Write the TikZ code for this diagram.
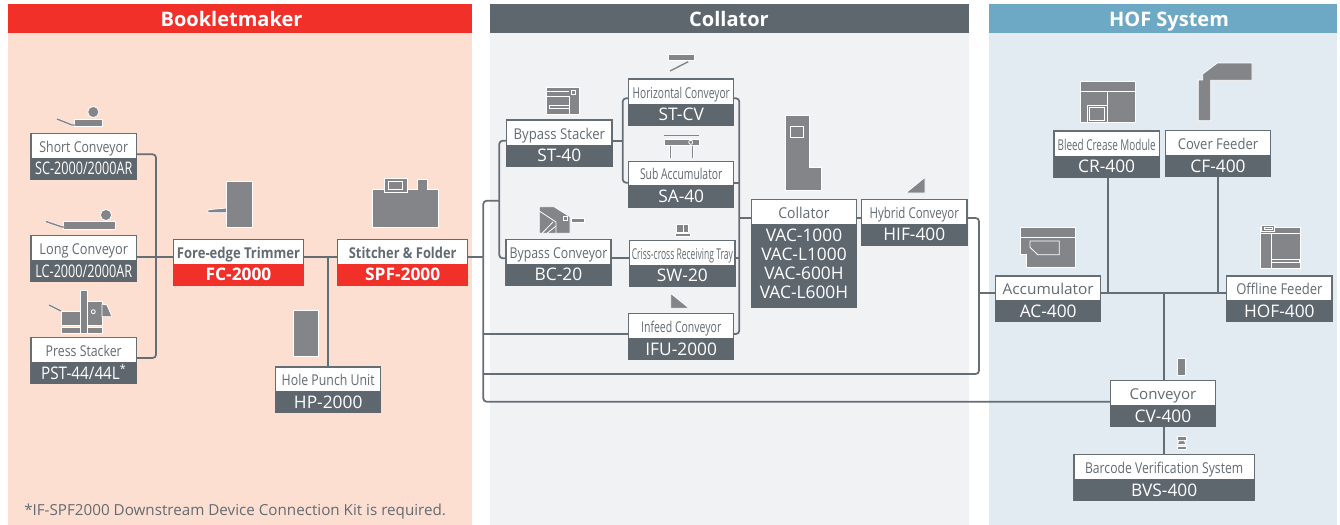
\documentclass[tikz,border=0pt]{standalone}
\usepackage{fontspec}
\usepackage{graphicx}
\setmainfont{Open Sans}
\usetikzlibrary{fit,calc}
\definecolor{peachbg}{HTML}{FDDFD2}
\definecolor{greybg}{HTML}{F1F2F4}
\definecolor{bluebg}{HTML}{E3EBF2}
\definecolor{redhd}{HTML}{F1302A}
\definecolor{darkhd}{HTML}{5F676E}
\definecolor{bluehd}{HTML}{6DA8C5}
\definecolor{icongrey}{HTML}{848589}
\definecolor{wire}{HTML}{666E75}
\definecolor{labtxt}{HTML}{636B72}
\newcommand{\sq}[2]{\scalebox{#1}[1]{#2}}
\tikzset{
  x=0.75pt,y=-0.75pt,
  panel/.style={draw=none,inner sep=0pt},
  headtxt/.style={text=white,font=\bfseries\fontsize{15}{16}\selectfont,inner sep=0pt,anchor=base},
  boxout/.style={draw=wire,line width=0.8pt,fill=white,inner sep=0pt},
  boxdark/.style={fill=darkhd,draw=darkhd,line width=0.5pt,inner sep=0pt},
  labeltxt/.style={text=labtxt,font=\fontsize{11.2}{12}\selectfont,inner sep=0pt,anchor=base},
  modeltxt/.style={text=white,font=\fontsize{13}{14.25}\selectfont,inner sep=0pt,anchor=base},
  conn/.style={draw=wire,line width=1.3pt,rounded corners=2.5pt},
  icon/.style={fill=icongrey,draw=white,line width=0.6pt,line join=miter},
  iw/.style={draw=white,line width=0.6pt},
  thinwire/.style={draw=icongrey,line width=1.1pt,preaction={draw=white,line width=1.8pt}},
}
\newcommand{\Unit}[8]{%
  \node[boxout,fit={(#2,#3)(#5,#6)}] (#1) {};
  \node[boxdark,fit={(#2,#4)(#5,#6)}] (#1-m) {};
  \node[labeltxt] (#1-l) at ({(#2+#5)/2},{#4-6}) {\sq{.9375}{#7}};
  \node[modeltxt] (#1-n) at ({(#2+#5)/2},{#6-4.6}) {#8};
}
\newcommand{\RedUnit}[8]{%
  \node[boxout,draw=redhd,fit={(#2,#3)(#5,#6)}] (#1) {};
  \node[boxdark,fill=redhd,draw=redhd,fit={(#2,#4)(#5,#6)}] (#1-m) {};
  \node[labeltxt,font=\bfseries\fontsize{11.2}{12}\selectfont] (#1-l) at ({(#2+#5)/2},{#4-6}) {\sq{.9375}{#7}};
  \node[modeltxt,font=\bfseries\fontsize{13}{14.25}\selectfont] (#1-n) at ({(#2+#5)/2},{#6-4.6}) {#8};
}
\begin{document}
\begin{tikzpicture}
\useasboundingbox (0,0) rectangle (1340,525);
\fill[white] (0,0) rectangle (1340,525);
% panels
\node[panel,fill=peachbg,fit={(8,33)(472,525)}] (pa) {};
\node[panel,fill=greybg,fit={(490,33)(969,525)}] (pb) {};
\node[panel,fill=bluebg,fit={(989,33)(1337,525)}] (pc) {};
\node[panel,fill=redhd,fit={(8,4)(472,33)}] (ha) {};
\node[panel,fill=darkhd,fit={(490,4)(969,33)}] (hb) {};
\node[panel,fill=bluehd,fit={(989,4)(1337,33)}] (hc) {};
\node[headtxt] (ta) at (231.5,26.3) {Bookletmaker};
\node[headtxt] (tb) at (729,26.3) {Collator};
\node[headtxt] (tc) at (1169,26.3) {HOF System};
% units
\Unit{sc}{31}{133.7}{158}{136.5}{179.5}{\sq{.88}{Short Conveyor}}{\sq{.73}{SC-2000/2000AR}}
\Unit{lc}{31}{235.7}{260}{136.5}{281.7}{\sq{.91}{Long Conveyor}}{\sq{.73}{LC-2000/2000AR}}
\Unit{pst}{31}{337.7}{362}{136.5}{383.7}{\sq{.88}{Press Stacker}}{\sq{.88}{PST-44/44L\textsuperscript{*}}}
\RedUnit{fc}{173.3}{239.3}{264}{303.7}{285.3}{\sq{.93}{Fore-edge Trimmer}}{FC-2000}
\RedUnit{spf}{337.7}{239.3}{264}{467.7}{285.3}{\sq{.92}{Stitcher \& Folder}}{SPF-2000}
\Unit{hp}{275.7}{367}{391}{380.7}{412.7}{\sq{.88}{Hole Punch Unit}}{HP-2000}
\Unit{st}{506.7}{120}{145}{612}{166}{\sq{.94}{Bypass Stacker}}{ST-40}
\Unit{stcv}{628.7}{79}{104}{733.7}{125}{\sq{.73}{Horizontal Conveyor}}{ST-CV}
\Unit{sa}{628.7}{161.3}{185}{733.7}{207.3}{\sq{.74}{Sub Accumulator}}{SA-40}
\Unit{bc}{506}{239.7}{264}{611}{285.3}{\sq{.88}{Bypass Conveyor}}{BC-20}
\Unit{sw}{629.7}{240.3}{265}{735}{286.3}{\sq{.61}{Criss-cross Receiving Tray}}{SW-20}
\Unit{ifu}{628.7}{313.7}{338}{733.7}{359.7}{\sq{.75}{Infeed Conveyor}}{IFU-2000}
\Unit{col}{751.3}{199.3}{224}{856.7}{307.3}{Collator}{}
\node[modeltxt,anchor=north,align=center,font=\fontsize{13}{14.25}\selectfont] (col-v) at (804,228.6) {VAC-1000\\VAC-L1000\\VAC-600H\\VAC-L600H};
\Unit{hif}{861.7}{199.3}{224}{967}{245.3}{\sq{.82}{Hybrid Conveyor}}{HIF-400}
\Unit{ac}{995.7}{276}{300}{1100.7}{321.7}{\sq{1.1}{Accumulator}}{AC-400}
\Unit{hof}{1226.7}{276}{300}{1332}{321.7}{\sq{.93}{Offline Feeder}}{HOF-400}
\Unit{cr}{1054}{131}{156}{1159.3}{177}{\sq{.71}{Bleed Crease Module}}{CR-400}
\Unit{cf}{1165.3}{130.3}{155}{1270.7}{176.7}{\sq{.93}{Cover Feeder}}{CF-400}
\Unit{cv}{1110.3}{380.7}{405}{1215.7}{426.7}{\sq{1.08}{Conveyor}}{CV-400}
\Unit{bvs}{1074}{454.7}{479}{1254.3}{500.7}{\sq{.87}{Barcode Verification System}}{BVS-400}
% trunk coordinates
\coordinate (t1) at (156,257.3);
\coordinate (t2) at (327.7,257.3);
\coordinate (t3) at (483.3,257.3);
\coordinate (t4) at (499.3,200.7);
\coordinate (t5) at (622.7,140.7);
\coordinate (t6) at (739.3,218);
\coordinate (t7) at (979,293.3);
\coordinate (t8) at (1108,293.3);
\coordinate (t9) at (1218.3,293.3);
\coordinate (t10) at (1164,293.3);
% connectors
\draw[conn] (sc.east |- 0,154.3) -| (t1) |- (pst.east |- 0,358);
\draw[conn] (lc.east |- t1) -- (fc.west |- t1);
\draw[conn] (fc.east |- t1) -- (spf.west |- t1);
\draw[conn] (t2) -- (t2 |- hp.north);
\draw[conn] (spf.east |- t3) -- (t3);
\draw[conn] (t4) -| (t3);
\draw[conn] (t3) |- (cv.west |- 0,401.7);
\draw[conn] (t3 |- 0,334) -- (ifu.west |- 0,334);
\draw[conn] (t3 |- 0,374) -- (979,374) -- (979,218) -- (hif.east |- t6);
\draw[conn] (st.west |- t5) -| (t4) |- (bc.west |- 0,258.3);
\draw[conn] (bc.east |- 0,258.3) -- (sw.west |- 0,258.3);
\draw[conn] (st.east |- t5) -- (t5);
\draw[conn] (stcv.west |- 0,98.3) -| (t5) |- (sa.west |- 0,182.7);
\draw[conn] (stcv.east |- 0,98.3) -| (t6) |- (ifu.east |- 0,334);
\draw[conn] (sa.east |- 0,182.7) -- (t6 |- 0,182.7);
\draw[conn] (sw.east |- 0,258.3) -- (t6 |- 0,258.3);
\draw[conn] (t6) -- (col.west |- t6);
\draw[conn] (col.east |- t6) -- (hif.west |- t6);
\draw[conn] (t7) -- (ac.west |- t7);
\draw[conn] (ac.east |- t7) -- (hof.west |- t7);
\draw[conn] (t8) -- (t8 |- cr.south);
\draw[conn] (t9) -- (t9 |- cf.south);
\draw[conn] (t10) -- (t10 |- cv.north);
\draw[conn] (t10 |- cv.south) -- (t10 |- bvs.north);
% footnote
\node[text=labtxt,font=\fontsize{11.4}{13}\selectfont,inner sep=0pt,anchor=base west] (fn) at (24,515) {*IF-SPF2000 Downstream Device Connection Kit is required.};
% icons: short conveyor
\draw[icon] (74.7,119) rectangle (102,126.7);
\draw[icon] (93.3,112) circle[radius=5.6];
\draw[thinwire] (57,119) -- (72,125) -- (75,125);
% long conveyor
\draw[icon] (63.7,221.7) rectangle (115,229.3);
\draw[icon] (106,215) circle[radius=5.6];
\draw[thinwire] (46,221.5) -- (62,227) -- (64,227);
% press stacker
\draw[thinwire] (49,305) -- (61,311);
\draw[icon] (61,311.7) rectangle (80,325.3);
\draw[icon] (61,327.3) rectangle (102,333);
\draw[icon] (87.3,301) rectangle (102,325);
\draw[icon] (102,304) -- (107,305) -- (112,316.7) -- (102,316.7) -- cycle;
\draw[icon] (80,290) rectangle (87.3,333.3);
\draw[icon] (93.3,311.7) circle[radius=2];
% fore-edge trimmer
\draw[icon] (208,209.7) -- (226.7,208) -- (226.7,212.7) -- (208,212.7) -- cycle;
\draw[icon] (226.7,181.7) rectangle (252.3,227.3);
% stitcher
\draw[icon] (372,189) -- (417.7,189) -- (417.7,179.7) -- (427,179.7) -- (427,189) -- (438.7,189) -- (438.7,227) -- (372,227) -- cycle;
\draw[icon] (384,178.3) rectangle (407.3,192.3);
\draw[iw] (388.3,181) rectangle (402.7,189.3);
% hole punch
\draw[icon] (293,310.3) rectangle (318.7,356);
% st-cv
\draw[icon] (668,54) rectangle (694.7,60.3);
\draw[thinwire] (670,71) -- (688.3,61.7);
% st-40
\draw[icon] (546.3,87.7) rectangle (579,114);
\draw[iw] (546.3,91) -- (569.3,91);
\draw[iw] (546.3,96.7) -- (569.3,96.7) -- (569.3,114);
\draw[iw] (569.3,105) -- (549,105) -- (549,108) -- (569.3,108);
\draw[iw] (571.7,90.7) rectangle (575.7,94.7);
% sa-40
\draw[draw=icongrey,line width=.7pt] (664,135) -- (699,135);
\draw[icon] (664,139.7) rectangle (699,145);
\draw[icon] (690.7,142.3) circle[radius=2];
\draw[thinwire] (670.3,146) -- (670.3,158);
\draw[thinwire] (692.7,146) -- (692.7,158);
% bc-20
\draw[icon] (539.3,206.7) -- (554,206.7) -- (570,216.7) -- (570,233.3) -- (539.3,233.3) -- cycle;
\draw[iw] (539.3,211) -- (556,222) -- (556,233.3);
\draw[iw] (542,233.3) -- (553,222);
\draw[iw] (547,233.3) -- (556,226);
\draw[iw] (563.3,216.7) rectangle (567.3,220.7);
\draw[icon] (571,218.7) rectangle (584,222);
% sw-20
\draw[icon] (676.7,224) rectangle (688.3,232.3);
\draw[iw] (683.3,224) -- (683.3,232.3);
\draw[icon] (675,233.3) rectangle (690,236.7);
% ifu
\draw[icon] (670.7,293.3) -- (670.7,308.3) -- (689.3,308.3) -- cycle;
% collator
\draw[icon] (785,115) -- (809,115) -- (809,167.3) -- (821.3,167.3) -- (821.3,190) -- (785,190) -- cycle;
\draw[iw] (790,126) rectangle (803.3,137.7);
% hif
\draw[icon] (925,177.3) -- (925,193) -- (905.7,193) -- cycle;
% cr
\draw[icon] (1080,81.3) rectangle (1135.3,122);
\draw[iw] (1080,91.3) -- (1135.3,91.3);
\draw[iw] (1107,91.3) -- (1107,122);
\draw[iw] (1087.3,122) |- (1107,105.3);
\draw[iw] (1089.3,107.7) rectangle (1104.3,120);
% cf
\draw[icon] (1198.3,120.7) -- (1198.3,80) -- (1202.7,80) -- (1202.7,74) -- (1217.3,63) -- (1252,63) -- (1252,80.3) -- (1210.7,80.3) -- (1210.7,120.7) -- cycle;
% ac
\draw[icon] (1020,227) -- (1075.3,227) -- (1075.3,267.7) -- (1026.7,267.7) -- (1026.7,254) -- (1020,254) -- cycle;
\draw[iw] (1020,237.3) -- (1075.3,237.3);
\draw[iw] (1030,241) -- (1059.3,241) -- (1059.3,254.7) -- (1037.7,254.7) -- (1030,247.3) -- cycle;
% hof
\draw[icon] (1260,227.3) rectangle (1300,268);
\draw[iw] (1260,233.3) -- (1300,233.3);
\draw[iw] (1271,233.3) -- (1271,268);
\draw[iw] (1271,259.5) rectangle (1299,262);
\draw[icon] (1261.7,225) rectangle (1274.3,231.3);
\draw[iw] (1264,227) rectangle (1272,229.5);
% cv
\draw[icon] (1177.7,358) rectangle (1185.7,375);
% bvs
\draw[icon] (1177.3,436.7) rectangle (1186,440.7);
\draw[icon] (1179,440.7) -- (1184.3,440.7) -- (1186,444.5) -- (1177.3,444.5) -- cycle;
\draw[icon] (1177.3,446) rectangle (1186,449.7);
\end{tikzpicture}
\end{document}
